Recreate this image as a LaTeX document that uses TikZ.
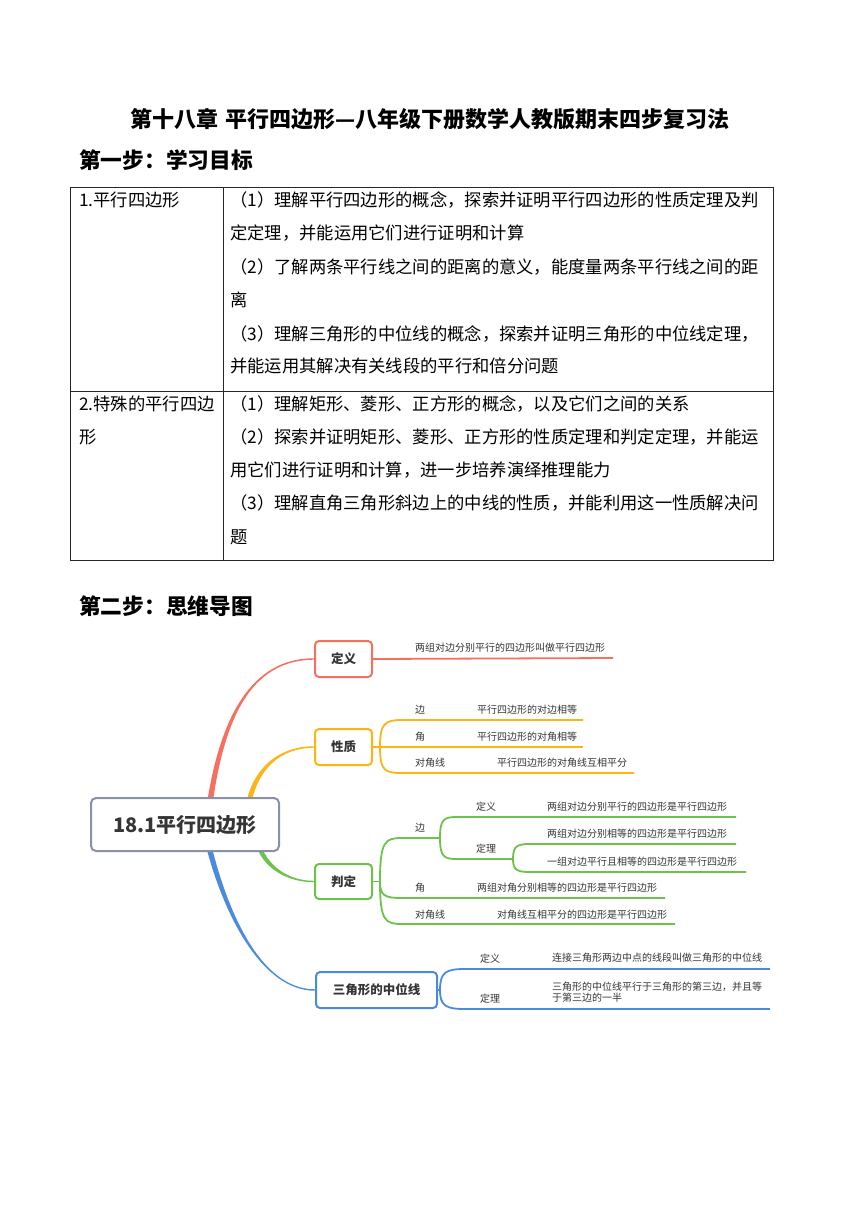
\documentclass[tikz,border=0pt]{standalone}
\usepackage{fontspec}
\setmainfont{Noto Sans CJK SC}
\usetikzlibrary{calc}
\definecolor{mred}{HTML}{F5705F}
\definecolor{morange}{HTML}{FDB515}
\definecolor{mgreen}{HTML}{6CC24A}
\definecolor{mblue}{HTML}{4A8CDB}
\definecolor{mroot}{HTML}{8792A8}
\definecolor{txt}{HTML}{353535}
\begin{document}
\begin{tikzpicture}[x=1pt,y=-1pt,
  head/.style={anchor=west,inner sep=0pt,font=\bfseries\fontsize{21.7}{21.7}\selectfont},
  tab/.style={anchor=west,inner sep=0pt,font=\fontsize{17.3}{17.3}\selectfont,text=black},
  lbl/.style={anchor=west,inner sep=0pt,font=\fontsize{10}{12}\selectfont,text=txt},
  box/.style={draw,rounded corners=4pt,line width=2pt,fill=white,minimum width=57pt,minimum height=36pt,inner sep=0pt,font=\bfseries\fontsize{12.5}{12.5}\selectfont,text=txt},
  sub/.style={line width=1.8pt},
  tabline/.style={line width=0.9pt,draw=black!85}
]
\useasboundingbox[fill=white] (0,0) rectangle (860,1216);

% ---------- title and headings ----------
\node[font=\bfseries\fontsize{22}{22}\selectfont,inner sep=0pt] (title) at (430,119) {第十八章\hspace{7pt}平行四边形—八年级下册数学人教版期末四步复习法};
\node[head] (step1) at (79,160) {第一步：学习目标};
\node[head] (step2) at (79,606) {第二步：思维导图};

% ---------- table ----------
\draw[tabline] (70,187) rectangle (773,560);
\draw[tabline] (70,391) -- (773,391);
\draw[tabline] (223,187) -- (223,560);

\node[tab] (a1) at (79,200) {1.平行四边形};
\node[tab] (a2) at (79,404) {2.特殊的平行四边};
\node[tab] (a3) at (79,437) {形};

\node[tab] (b1) at (230,200) {（1）理解平行四边形的概念，探索并证明平行四边形的性质定理及判};
\node[tab] (b2) at (230,233) {定定理，并能运用它们进行证明和计算};
\node[tab] (b3) at (230,267) {（2）了解两条平行线之间的距离的意义，能度量两条平行线之间的距};
\node[tab] (b4) at (230,300) {离};
\node[tab] (b5) at (230,334) {（3）理解三角形的中位线的概念，探索并证明三角形的中位线定理，};
\node[tab] (b6) at (230,366) {并能运用其解决有关线段的平行和倍分问题};

\node[tab] (c1) at (230,404) {（1）理解矩形、菱形、正方形的概念，以及它们之间的关系};
\node[tab] (c2) at (230,437) {（2）探索并证明矩形、菱形、正方形的性质定理和判定定理，并能运};
\node[tab] (c3) at (230,470) {用它们进行证明和计算，进一步培养演绎推理能力};
\node[tab] (c4) at (230,503) {（3）理解直角三角形斜边上的中线的性质，并能利用这一性质解决问};
\node[tab] (c5) at (230,537) {题};

% ---------- mind map: boxes (positions) ----------
\path (343.5,659) node[box,draw=mred] (def) {定义};
\path (343.5,747) node[box,draw=morange] (prop) {性质};
\path (343.5,881.5) node[box,draw=mgreen,minimum height=35pt] (judge) {判定};
\path (376.5,990) node[box,draw=mblue,minimum width=121pt] (mid) {三角形的中位线};

\coordinate (rs1) at (210,802);
\coordinate (rs2) at (249,802);
\coordinate (rs3) at (259,847);
\coordinate (rs4) at (209,847);

% ---------- main branches (tapered) ----------
\fill[mred] ($(rs1)+(-2.8,0)$) .. controls (220,720) and (250,658) .. ($(def.west)+(0,-0.7)$)
  -- ($(def.west)+(0,0.7)$) .. controls (250,660) and (224.5,720) .. ($(rs1)+(2.8,0)$) -- cycle;
\fill[morange] ($(rs2)+(-2.6,0)$) .. controls (254,767) and (280,746) .. ($(prop.west)+(0,-0.7)$)
  -- ($(prop.west)+(0,0.7)$) .. controls (280,748) and (258.5,769) .. ($(rs2)+(2.6,0)$) -- cycle;
\fill[mgreen] ($(rs3)+(2.6,0)$) .. controls (270,868) and (290,880.8) .. ($(judge.west)+(0,-0.7)$)
  -- ($(judge.west)+(0,0.7)$) .. controls (290,882.2) and (266,871) .. ($(rs3)+(-2.6,0)$) -- cycle;
\fill[mblue] ($(rs4)+(2.8,0)$) .. controls (227.5,910) and (260,989.3) .. ($(mid.west)+(0,-0.7)$)
  -- ($(mid.west)+(0,0.7)$) .. controls (260,990.7) and (222.5,910) .. ($(rs4)+(-2.8,0)$) -- cycle;

% root box on top
\node[draw=mroot,line width=2pt,rounded corners=5pt,fill=white,minimum width=188pt,minimum height=53pt,inner sep=0pt,
  font=\bfseries\fontsize{20}{20}\selectfont,text=txt] (root) at (185,824.5) {18.1平行四边形};

% ---------- 定义 ----------
\coordinate (de) at (613,658);
\draw[sub,mred] (def.east) -- (de);
\node[lbl] (dt) at (415,648) {两组对边分别平行的四边形叫做平行四边形};

% ---------- 性质 ----------
\coordinate (pf) at (380,747);
\coordinate (pe1) at (583,720);
\coordinate (pe2) at (583,747);
\coordinate (pe3) at (634,773);
\draw[sub,morange] (prop.east) -- (pf) -- (pe2);
\draw[sub,morange] (pf) .. controls (380,723) and (385,720) .. (402,720) -- (pe1);
\draw[sub,morange] (pf) .. controls (380,771) and (385,773) .. (402,773) -- (pe3);
\node[lbl] (p1) at (415,710) {边};
\node[lbl] (p1t) at (477,710) {平行四边形的对边相等};
\node[lbl] (p2) at (415,737) {角};
\node[lbl] (p2t) at (477,737) {平行四边形的对角相等};
\node[lbl] (p3) at (415,763) {对角线};
\node[lbl] (p3t) at (497,763) {平行四边形的对角线互相平分};

% ---------- 判定 ----------
\coordinate (jf) at (380,881.5);
\coordinate (jb) at (440,838);
\coordinate (jd) at (513,859);
\coordinate (je1) at (736,817);
\coordinate (je2) at (736,844);
\coordinate (je3) at (746,872);
\coordinate (je4) at (665,898);
\coordinate (je5) at (675,924);
\draw[sub,mgreen] (judge.east) -- (jf);
\draw[sub,mgreen] (jf) .. controls (380,841) and (385,838) .. (402,838) -- (jb);
\draw[sub,mgreen] (jf) .. controls (380,896) and (385,898) .. (402,898) -- (je4);
\draw[sub,mgreen] (jf) .. controls (380,921) and (385,924) .. (402,924) -- (je5);
\draw[sub,mgreen] (jb) .. controls (440,819) and (444,817) .. (457,817) -- (je1);
\draw[sub,mgreen] (jb) .. controls (440,857) and (444,859) .. (457,859) -- (jd);
\draw[sub,mgreen] (jd) .. controls (513,846) and (517,844) .. (530,844) -- (je2);
\draw[sub,mgreen] (jd) .. controls (513,870) and (517,872) .. (530,872) -- (je3);
\node[lbl] (j1) at (415,828) {边};
\node[lbl] (j11) at (476,807) {定义};
\node[lbl] (j11t) at (547,807) {两组对边分别平行的四边形是平行四边形};
\node[lbl] (j12) at (476,849) {定理};
\node[lbl] (j12a) at (547,834) {两组对边分别相等的四边形是平行四边形};
\node[lbl] (j12b) at (547,862) {一组对边平行且相等的四边形是平行四边形};
\node[lbl] (j2) at (415,888) {角};
\node[lbl] (j2t) at (477,888) {两组对角分别相等的四边形是平行四边形};
\node[lbl] (j3) at (415,915) {对角线};
\node[lbl] (j3t) at (497,915) {对角线互相平分的四边形是平行四边形};

% ---------- 三角形的中位线 ----------
\coordinate (mf) at (440,990);
\coordinate (me1) at (770,969);
\coordinate (me2) at (770,1009);
\draw[sub,mblue] (mid.east) -- (mf);
\draw[sub,mblue] (mf) .. controls (440,972) and (446,969) .. (465,969) -- (me1);
\draw[sub,mblue] (mf) .. controls (440,1006) and (446,1009) .. (465,1009) -- (me2);
\node[lbl] (m1) at (480,959) {定义};
\node[lbl] (m1t) at (552,958) {连接三角形两边中点的线段叫做三角形的中位线};
\node[lbl] (m2) at (480,999) {定理};
\node[lbl,align=left] (m2t) at (552,992) {三角形的中位线平行于三角形的第三边，并且等\\[-1.3pt]于第三边的一半};
\end{tikzpicture}
\end{document}
